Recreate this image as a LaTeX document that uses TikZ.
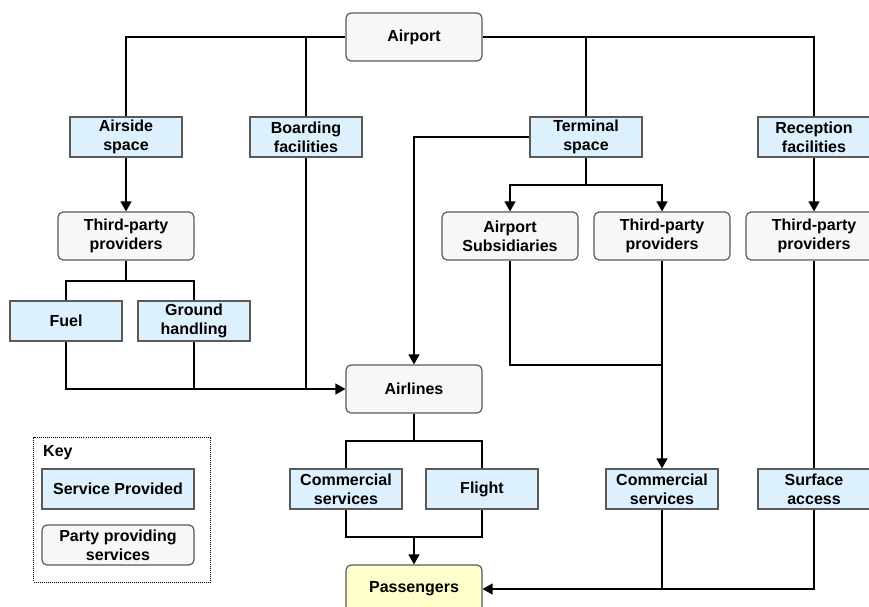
\documentclass[tikz,border=0pt]{standalone}
\usepackage{fontspec}
\setmainfont{Liberation Sans}
\usetikzlibrary{arrows.meta}
\definecolor{svcfill}{HTML}{DDF0FD}
\definecolor{partyfill}{HTML}{F7F7F7}
\definecolor{passfill}{HTML}{FFFFCC}
\definecolor{edgegray}{HTML}{5A5A5A}
\begin{document}
\begin{tikzpicture}[x=1pt,y=-1pt,
  every node/.style={font=\fontsize{16}{19}\selectfont\bfseries, align=center, inner sep=0pt},
  svc/.style={draw=edgegray, line width=1.2pt, fill=svcfill, minimum width=112pt, minimum height=40pt},
  party/.style={draw=edgegray, line width=1.2pt, fill=partyfill, rounded corners=5pt, minimum width=136pt, minimum height=48pt},
  conn/.style={line width=1.3pt, black},
  arr/.style={conn, -{Triangle[length=10pt,width=11pt]}}
]
\useasboundingbox (0,0) rectangle (869,606);

% nodes
\node[party] (airport) at (414,37) {Airport};
\node[svc] (airside) at (126,137) {Airside\\space};
\node[svc] (boarding) at (306,137) {Boarding\\facilities};
\node[svc] (terminal) at (586,137) {Terminal\\space};
\node[svc] (reception) at (814,137) {Reception\\facilities};
\node[party] (tpp1) at (126,236) {Third-party\\providers};
\node[party] (subs) at (510,236) {Airport\\Subsidiaries};
\node[party] (tpp2) at (662,236) {Third-party\\providers};
\node[party] (tpp3) at (814,236) {Third-party\\providers};
\node[svc] (fuel) at (66,321) {Fuel};
\node[svc] (ground) at (194,321) {Ground\\handling};
\node[party] (airlines) at (414,389) {Airlines};
\node[svc] (com1) at (346,489) {Commercial\\services};
\node[svc] (flight) at (482,489) {Flight};
\node[svc] (com2) at (662,489) {Commercial\\services};
\node[svc] (surface) at (814,489) {Surface\\access};
\node[party, fill=passfill] (pass) at (414,589) {Passengers};

% junctions
\coordinate (j1) at (126,281);
\coordinate (j2) at (586,185);
\coordinate (j3) at (662,365);
\coordinate (j4) at (414,441);
\coordinate (j5) at (414,537);

% connectors
\draw[conn] (airport.west) -| (airside.north);
\draw[conn] (boarding.north |- airport.west) -- (boarding.north);
\draw[conn] (airport.east) -| (reception.north);
\draw[conn] (terminal.north |- airport.east) -- (terminal.north);

\draw[arr] (airside.south) -- (tpp1.north);
\draw[conn] (tpp1.south) -- (j1);
\draw[conn] (fuel.north) |- (j1) -| (ground.north);
\draw[arr] (fuel.south) |- (airlines.west);
\draw[conn] (ground.south) -- (ground.south |- airlines.west);
\draw[conn] (boarding.south) -- (boarding.south |- airlines.west);

\draw[arr] (terminal.west) -| (airlines.north);
\draw[conn] (terminal.south) -- (j2);
\draw[arr] (j2) -| (subs.north);
\draw[arr] (j2) -| (tpp2.north);
\draw[arr] (reception.south) -- (tpp3.north);

\draw[conn] (subs.south) |- (j3);
\draw[arr] (tpp2.south) -- (com2.north);
\draw[conn] (tpp3.south) -- (surface.north);

\draw[conn] (airlines.south) -- (j4);
\draw[conn] (com1.north) |- (j4) -| (flight.north);
\draw[conn] (com1.south) |- (j5) -| (flight.south);
\draw[arr] (j5) -- (pass.north);

\draw[arr] (surface.south) |- (pass.east);
\draw[conn] (com2.south) -- (com2.south |- pass.east);

% key
\node[draw=black, dash pattern=on 1pt off 1pt, line width=1pt, minimum width=177pt, minimum height=145pt] (keybox) at (122,509.5) {};
\node[anchor=west] (keylabel) at (43,453) {Key};
\node[svc, minimum width=152pt] (keysvc) at (118,489) {Service Provided};
\node[party, minimum width=152pt, minimum height=40pt] (keyparty) at (118,545) {Party providing\\services};
\end{tikzpicture}
\end{document}
